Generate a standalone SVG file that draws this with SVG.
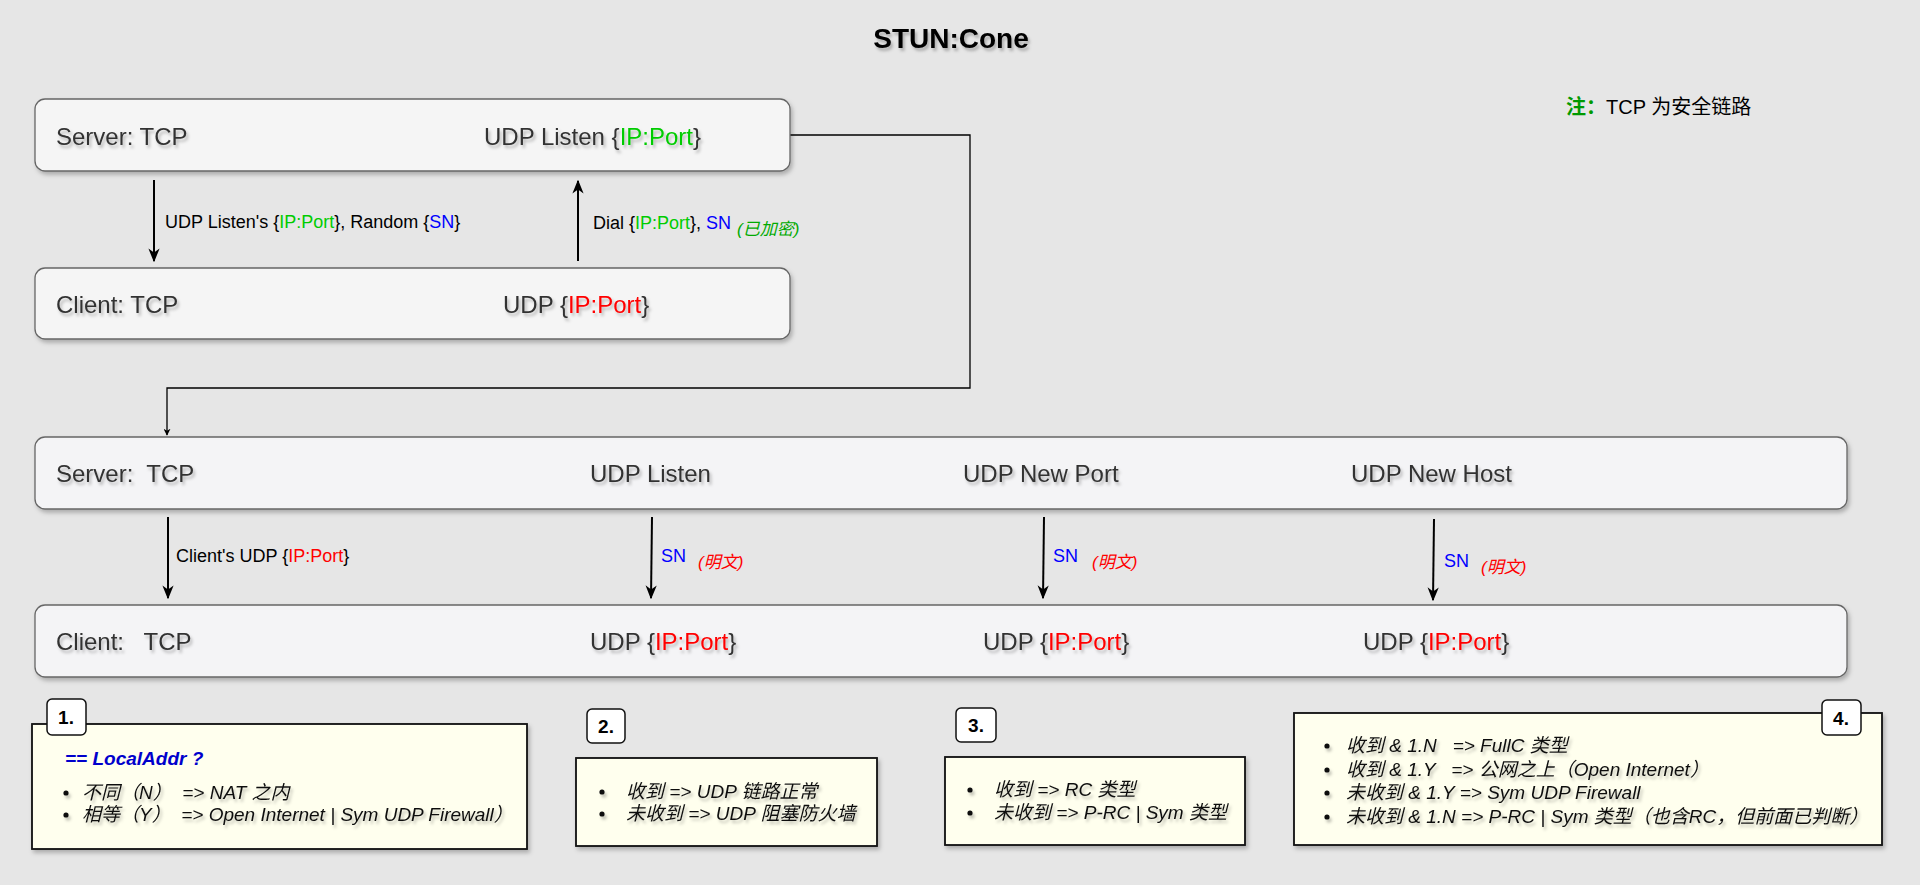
<svg xmlns="http://www.w3.org/2000/svg" width="1920" height="885" viewBox="0 0 1920 885">
<defs>
<filter id="ts" x="-5%" y="-30%" width="110%" height="160%">
<feDropShadow dx="2" dy="3" stdDeviation="1.5" flood-color="#000" flood-opacity="0.25"/>
</filter>
<filter id="bs" x="-5%" y="-20%" width="110%" height="140%">
<feDropShadow dx="2" dy="3" stdDeviation="2" flood-color="#000" flood-opacity="0.25"/>
</filter>
<marker id="ah" viewBox="0 0 10 10" refX="9" refY="5" markerWidth="7" markerHeight="7" markerUnits="userSpaceOnUse" orient="auto">
<path d="M0,0 L10,5 L0,10 L3,5 Z" fill="#000"/>
</marker>
<marker id="ahb" viewBox="0 0 10 10" refX="9" refY="5" markerWidth="14" markerHeight="14" markerUnits="userSpaceOnUse" orient="auto">
<path d="M0,1 L10,5 L0,9 L3,5 Z" fill="#000"/>
</marker>
</defs>
<style>
text{font-family:"Liberation Sans","Noto Sans CJK SC",sans-serif;white-space:pre}
.main{font-size:24px;fill:#333333}
.lbl{font-size:18px;fill:#000}
.note{font-size:19px;font-style:italic;fill:#111}
.tag{font-size:19px;font-weight:bold;fill:#000}
.box{fill:#f5f5f5;stroke:#666666;stroke-width:1.3}
.box2{fill:#f4f4f6;stroke:#666666;stroke-width:1.3}
.nbox{fill:#ffffee;stroke:#111;stroke-width:1.8}
.tbox{fill:#ffffff;stroke:#111;stroke-width:1.5}
.g{fill:#00cc00}
.r{fill:#ff0000}
.b{fill:#0000ff}
.arr{stroke:#000;stroke-width:2;fill:none}
.conn{stroke:#000;stroke-width:1.3;fill:none}
.paren{font-size:17px;font-style:italic}
</style>
<rect x="0" y="0" width="1920" height="885" fill="#e6e6e6"/>

<g id="title">
<text x="951" y="48" text-anchor="middle" font-size="28" font-weight="bold" fill="#000" filter="url(#ts)">STUN:Cone</text>
</g>
<g id="remark">
<text x="1566" y="114" font-size="20" fill="#000"><tspan fill="#009900" font-weight="bold">注：</tspan>TCP 为安全链路</text>
</g>

<g id="connectors">
<line class="arr" x1="154" y1="180" x2="154" y2="261" marker-end="url(#ahb)"/>
<line class="arr" x1="578" y1="261" x2="578" y2="181" marker-end="url(#ahb)"/>
<polyline class="conn" points="790,135 970,135 970,388 167,388 167,435" marker-end="url(#ah)"/>
<line class="arr" x1="168" y1="517" x2="168" y2="598" marker-end="url(#ahb)"/>
<line class="arr" x1="652" y1="517" x2="651" y2="598" marker-end="url(#ahb)"/>
<line class="arr" x1="1044" y1="517" x2="1043" y2="598" marker-end="url(#ahb)"/>
<line class="arr" x1="1434" y1="519" x2="1433" y2="600" marker-end="url(#ahb)"/>
<text class="lbl" x="165" y="228">UDP Listen's {<tspan class="g">IP:Port</tspan>}, Random {<tspan class="b">SN</tspan>}</text>
<text class="lbl" x="593" y="229">Dial {<tspan class="g">IP:Port</tspan>}, <tspan class="b">SN</tspan></text>
<text class="paren" x="737" y="235" fill="#00aa00">(已加密)</text>
<text class="lbl" x="176" y="562">Client's UDP {<tspan class="r">IP:Port</tspan>}</text>
<text class="lbl" x="661" y="562"><tspan class="b">SN</tspan></text>
<text class="paren" x="698" y="568" fill="#ff0000">(明文)</text>
<text class="lbl" x="1053" y="562"><tspan class="b">SN</tspan></text>
<text class="paren" x="1092" y="568" fill="#ff0000">(明文)</text>
<text class="lbl" x="1444" y="567"><tspan class="b">SN</tspan></text>
<text class="paren" x="1481" y="573" fill="#ff0000">(明文)</text>
</g>

<g id="server1">
<rect class="box" x="35" y="99" width="755" height="72" rx="10" filter="url(#bs)"/>
<text class="main" x="56" y="145" filter="url(#ts)">Server: TCP</text>
<text class="main" x="484" y="145" filter="url(#ts)">UDP Listen {<tspan class="g">IP:Port</tspan>}</text>
</g>
<g id="client1">
<rect class="box" x="35" y="268" width="755" height="71" rx="10" filter="url(#bs)"/>
<text class="main" x="56" y="313" filter="url(#ts)">Client: TCP</text>
<text class="main" x="503" y="313" filter="url(#ts)">UDP {<tspan class="r">IP:Port</tspan>}</text>
</g>
<g id="server2">
<rect class="box2" x="35" y="437" width="1812" height="72" rx="10" filter="url(#bs)"/>
<text class="main" x="56" y="482" filter="url(#ts)">Server:  TCP</text>
<text class="main" x="590" y="482" filter="url(#ts)">UDP Listen</text>
<text class="main" x="963" y="482" filter="url(#ts)">UDP New Port</text>
<text class="main" x="1351" y="482" filter="url(#ts)">UDP New Host</text>
</g>
<g id="client2">
<rect class="box2" x="35" y="605" width="1812" height="72" rx="10" filter="url(#bs)"/>
<text class="main" x="56" y="650" filter="url(#ts)">Client:   TCP</text>
<text class="main" x="590" y="650" filter="url(#ts)">UDP {<tspan class="r">IP:Port</tspan>}</text>
<text class="main" x="983" y="650" filter="url(#ts)">UDP {<tspan class="r">IP:Port</tspan>}</text>
<text class="main" x="1363" y="650" filter="url(#ts)">UDP {<tspan class="r">IP:Port</tspan>}</text>
</g>

<g id="note1">
<rect class="nbox" x="32" y="724" width="495" height="125" filter="url(#bs)"/>
<rect class="tbox" x="47" y="699" width="39" height="36" rx="5"/>
<text class="tag" x="66" y="724" text-anchor="middle">1.</text>
<text x="65" y="765" font-size="19" font-weight="bold" font-style="italic" fill="#0000cc">== LocalAddr ?</text>
<g filter="url(#ts)">
<circle cx="66" cy="793" r="2.6" fill="#111"/>
<circle cx="66" cy="815" r="2.6" fill="#111"/>
<text class="note" x="82" y="799">不同（N）  =&gt; NAT 之内</text>
<text class="note" x="82" y="821">相等（Y）  =&gt; Open Internet | Sym UDP Firewall）</text>
</g>
</g>
<g id="note2">
<rect class="nbox" x="576" y="758" width="301" height="88" filter="url(#bs)"/>
<rect class="tbox" x="587" y="709" width="38" height="34" rx="5"/>
<text class="tag" x="606" y="733" text-anchor="middle">2.</text>
<g filter="url(#ts)">
<circle cx="602" cy="792" r="2.6" fill="#111"/>
<circle cx="602" cy="814" r="2.6" fill="#111"/>
<text class="note" x="626" y="798">收到 =&gt; UDP 链路正常</text>
<text class="note" x="626" y="820">未收到 =&gt; UDP 阻塞防火墙</text>
</g>
</g>
<g id="note3">
<rect class="nbox" x="945" y="757" width="300" height="88" filter="url(#bs)"/>
<rect class="tbox" x="956" y="708" width="40" height="34" rx="5"/>
<text class="tag" x="976" y="732" text-anchor="middle">3.</text>
<g filter="url(#ts)">
<circle cx="970" cy="790" r="2.6" fill="#111"/>
<circle cx="970" cy="813" r="2.6" fill="#111"/>
<text class="note" x="994" y="796">收到 =&gt; RC 类型</text>
<text class="note" x="994" y="819">未收到 =&gt; P-RC | Sym 类型</text>
</g>
</g>
<g id="note4">
<rect class="nbox" x="1294" y="713" width="588" height="132" filter="url(#bs)"/>
<rect class="tbox" x="1822" y="700" width="39" height="35" rx="5"/>
<text class="tag" x="1841" y="725" text-anchor="middle">4.</text>
<g filter="url(#ts)">
<circle cx="1327" cy="746" r="2.6" fill="#111"/>
<circle cx="1327" cy="770" r="2.6" fill="#111"/>
<circle cx="1327" cy="793" r="2.6" fill="#111"/>
<circle cx="1327" cy="817" r="2.6" fill="#111"/>
<text class="note" x="1346" y="752">收到 &amp; 1.N   =&gt; FullC 类型</text>
<text class="note" x="1346" y="776">收到 &amp; 1.Y   =&gt; 公网之上（Open Internet）</text>
<text class="note" x="1346" y="799">未收到 &amp; 1.Y =&gt; Sym UDP Firewall</text>
<text class="note" x="1346" y="823">未收到 &amp; 1.N =&gt; P-RC | Sym 类型（也含RC，但前面已判断）</text>
</g>
</g>
</svg>
